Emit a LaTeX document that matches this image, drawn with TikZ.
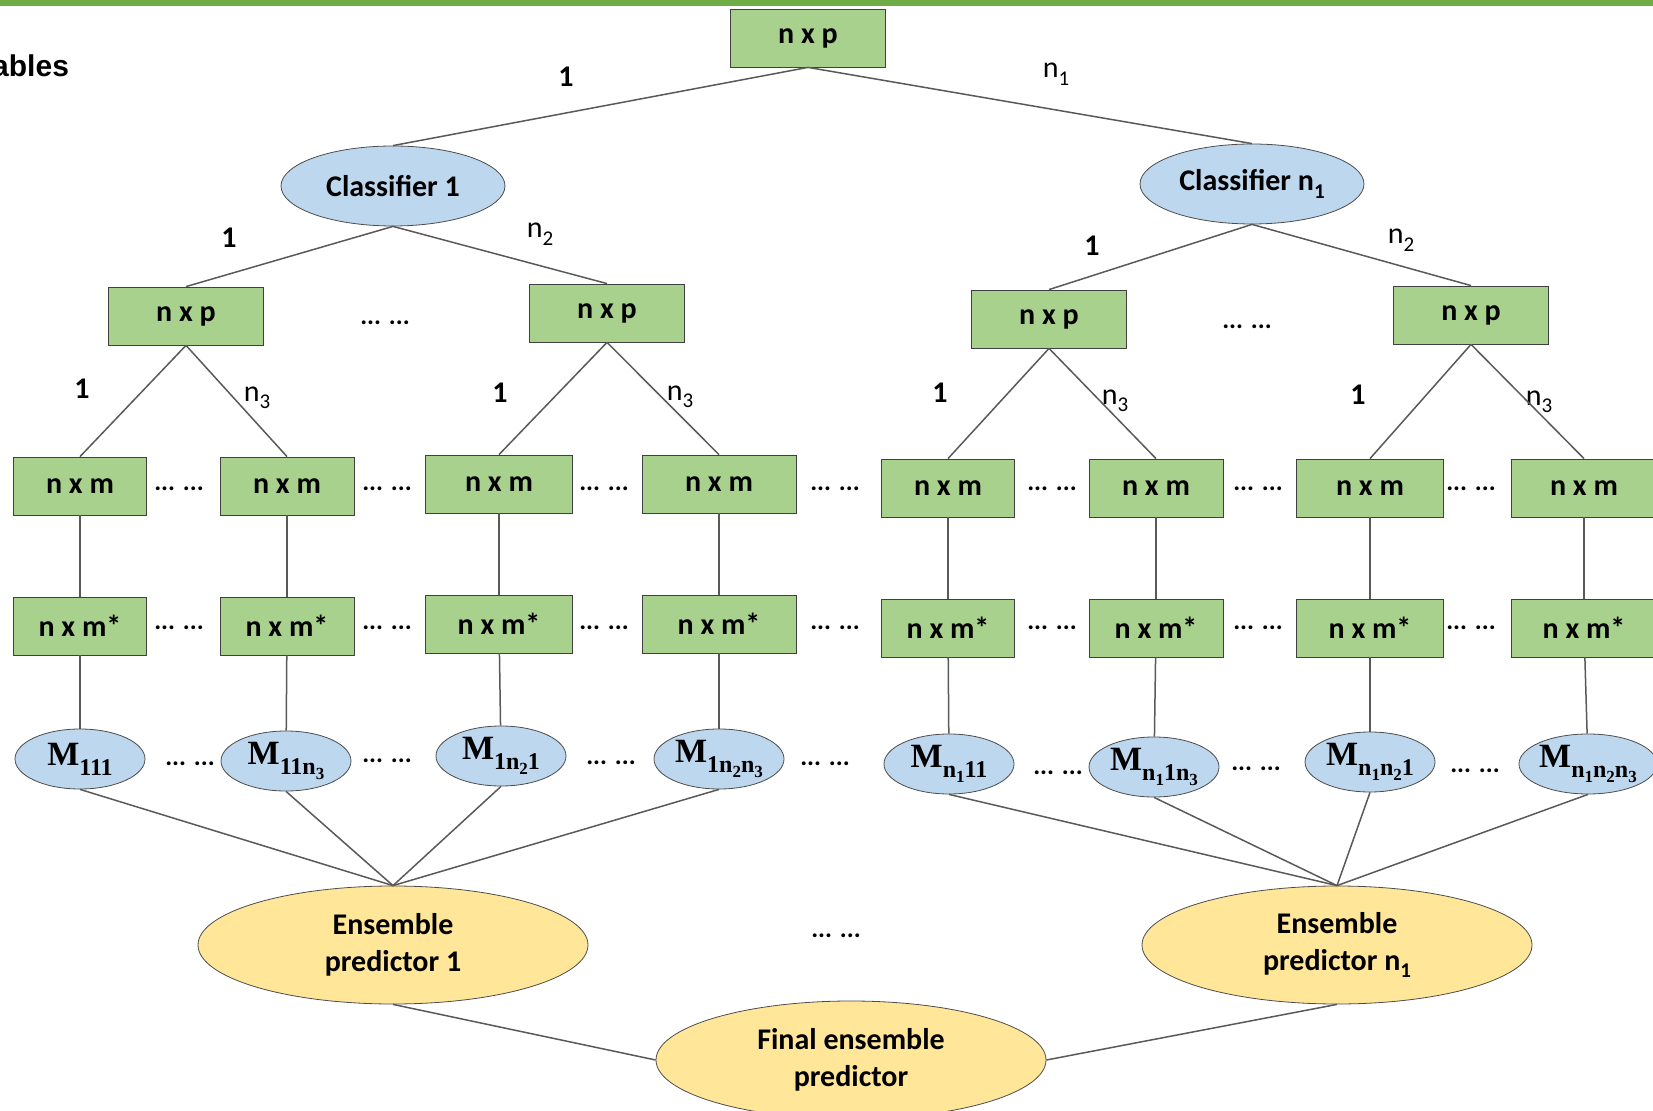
\documentclass[tikz,border=0pt]{standalone}
\usepackage{fontspec}
\setmainfont{Carlito}
\newfontfamily\mfont{Liberation Serif}
\newfontfamily\hfont{Liberation Sans}
\usetikzlibrary{shapes.geometric}

\definecolor{boxgreen}{HTML}{A9D18E}
\definecolor{ellblue}{HTML}{BDD7EE}
\definecolor{ellyellow}{HTML}{FFE699}
\definecolor{bargreen}{HTML}{70AD47}
\definecolor{linegray}{HTML}{595959}

\newcommand{\nsub}[1]{\raisebox{-0.25em}{\fontsize{10.5}{10.5}\selectfont #1}}
\newcommand{\msub}[1]{\raisebox{-0.2em}{\fontsize{8.5}{8.5}\selectfont #1}}
\newcommand{\mname}[1]{{\mfont\bfseries\fontsize{17}{17}\selectfont M\raisebox{-0.3em}{\fontsize{12}{12}\selectfont #1}}}

\begin{document}
\begin{tikzpicture}[x=0.5pt,y=-0.5pt]

\tikzset{boxnode/.style={rectangle,draw=black!75,fill=boxgreen,minimum width=77.5pt,minimum height=29pt,inner sep=0pt,font=\fontsize{15}{15}\selectfont\bfseries},}
\tikzset{clsnode/.style={ellipse,draw=black!70,fill=ellblue,minimum width=112pt,minimum height=40pt,inner sep=0pt,font=\fontsize{15}{15}\selectfont\bfseries},}
\tikzset{mnode/.style={ellipse,draw=black!70,fill=ellblue,minimum width=65pt,minimum height=30pt,inner sep=0pt},}
\tikzset{ensnode/.style={ellipse,draw=black!70,fill=ellyellow,minimum width=195pt,minimum height=59pt,inner sep=0pt,align=center,font=\fontsize{15}{18.5}\selectfont\bfseries},}
\tikzset{edge/.style={linegray,line width=0.75pt},}
\tikzset{onelab/.style={font=\fontsize{15}{15}\selectfont\bfseries},}
\tikzset{nlab/.style={font=\fontsize{15}{15}\selectfont},}
\tikzset{dotlab/.style={font=\fontsize{13}{13}\selectfont\bfseries},}

  \useasboundingbox (0,0) rectangle (1653,1111);
  \fill[bargreen] (0,0) rectangle (1653,6);
  \draw (76,66) node[anchor=east,font=\hfont\fontsize{15}{15}\selectfont\bfseries](vartitle) {ables};

  \draw (808,38) node[boxnode](top) {n x p};
  \draw (393,186) node[clsnode](cls1) {Classifier 1};
  \draw (1252,184) node[clsnode](clsn) {Classifier n\nsub{1}};

  \draw (186,316) node[boxnode](p1) {n x p};
  \draw (607,313) node[boxnode](p2) {n x p};
  \draw (1049,319) node[boxnode](p3) {n x p};
  \draw (1471,315) node[boxnode](p4) {n x p};

  \draw (80,486) node[boxnode,minimum width=66.5pt](m1) {n x m};
  \draw (287,486) node[boxnode,minimum width=67pt](m2) {n x m};
  \draw (499,484) node[boxnode,minimum width=73.5pt](m3) {n x m};
  \draw (719,484) node[boxnode,minimum width=77pt](m4) {n x m};
  \draw (948,488) node[boxnode,minimum width=66.5pt](m5) {n x m};
  \draw (1156,488) node[boxnode,minimum width=67pt](m6) {n x m};
  \draw (1370,488) node[boxnode,minimum width=73.5pt](m7) {n x m};
  \draw (1584,488) node[boxnode,minimum width=73pt](m8) {n x m};

  \draw (80,626) node[boxnode,minimum width=66.5pt](s1) {n x m*};
  \draw (287,626) node[boxnode,minimum width=67pt](s2) {n x m*};
  \draw (499,624) node[boxnode,minimum width=73.5pt](s3) {n x m*};
  \draw (719,624) node[boxnode,minimum width=77pt](s4) {n x m*};
  \draw (948,628) node[boxnode,minimum width=66.5pt](s5) {n x m*};
  \draw (1156,628) node[boxnode,minimum width=67pt](s6) {n x m*};
  \draw (1370,628) node[boxnode,minimum width=73.5pt](s7) {n x m*};
  \draw (1584,628) node[boxnode,minimum width=73pt](s8) {n x m*};

  \draw (80,759) node[mnode](e1) {\mname{111}};
  \draw (286,761) node[mnode](e2) {\mname{11n\msub{3}}};
  \draw (501,756) node[mnode](e3) {\mname{1n\msub{2}1}};
  \draw (719,759) node[mnode](e4) {\mname{1n\msub{2}n\msub{3}}};
  \draw (949,764) node[mnode](e5) {\mname{n\msub{1}11}};
  \draw (1154,767) node[mnode](e6) {\mname{n\msub{1}1n\msub{3}}};
  \draw (1370,762) node[mnode](e7) {\mname{n\msub{1}n\msub{2}1}};
  \draw (1588,764) node[mnode](e8) {\mname{n\msub{1}n\msub{2}n\msub{3}}};

  \draw (393,945) node[ensnode](ens1) {Ensemble\\predictor 1};
  \draw (1337,945) node[ensnode](ensn) {Ensemble\\predictor n\nsub{1}};
  \draw (851,1060) node[ensnode](fin) {Final ensemble\\predictor};

  %dots
  \draw (385,323) node[dotlab](d0a) {... ...};
  \draw (1247,327) node[dotlab](d0b) {... ...};
  \draw (179,489) node[dotlab](d1a) {... ...};
  \draw (387,489) node[dotlab](d1b) {... ...};
  \draw (604,489) node[dotlab](d1c) {... ...};
  \draw (835,489) node[dotlab](d1d) {... ...};
  \draw (1052,489) node[dotlab](d1e) {... ...};
  \draw (1258,489) node[dotlab](d1f) {... ...};
  \draw (1471,489) node[dotlab](d1g) {... ...};
  \draw (179,628) node[dotlab](d2a) {... ...};
  \draw (387,628) node[dotlab](d2b) {... ...};
  \draw (604,628) node[dotlab](d2c) {... ...};
  \draw (835,628) node[dotlab](d2d) {... ...};
  \draw (1052,628) node[dotlab](d2e) {... ...};
  \draw (1258,628) node[dotlab](d2f) {... ...};
  \draw (1471,628) node[dotlab](d2g) {... ...};
  \draw (190,764) node[dotlab](d3a) {... ...};
  \draw (387,761) node[dotlab](d3b) {... ...};
  \draw (611,763) node[dotlab](d3c) {... ...};
  \draw (825,764) node[dotlab](d3d) {... ...};
  \draw (1058,773) node[dotlab](d3e) {... ...};
  \draw (1256,769) node[dotlab](d3f) {... ...};
  \draw (1475,771) node[dotlab](d3g) {... ...};
  \draw (836,936) node[dotlab](d4) {... ...};

  %edge labels
  \draw (566,77) node[onelab](l1) {1};
  \draw (1056,74) node[nlab](l2) {n\nsub{1}};
  \draw (229,238) node[onelab](l3) {1};
  \draw (540,234) node[nlab](l4) {n\nsub{2}};
  \draw (1092,246) node[onelab](l5) {1};
  \draw (1401,240) node[nlab](l6) {n\nsub{2}};
  \draw (82,389) node[onelab](l7) {1};
  \draw (257,398) node[nlab](l8) {n\nsub{3}};
  \draw (500,393) node[onelab](l9) {1};
  \draw (680,397) node[nlab](l10) {n\nsub{3}};
  \draw (940,393) node[onelab](l11) {1};
  \draw (1115,401) node[nlab](l12) {n\nsub{3}};
  \draw (1358,395) node[onelab](l13) {1};
  \draw (1539,402) node[nlab](l14) {n\nsub{3}};

  %edges for the tree
    \draw[edge] (top.south) -- (cls1.north);
    \draw[edge] (top.south) -- (clsn.north);
    \draw[edge] (cls1.south) -- (p1.north);
    \draw[edge] (cls1.south) -- (p2.north);
    \draw[edge] (clsn.south) -- (p3.north);
    \draw[edge] (clsn.south) -- (p4.north);

    \draw[edge] (p1.south) -- (m1.north);
    \draw[edge] (p1.south) -- (m2.north);
    \draw[edge] (p2.south) -- (m3.north);
    \draw[edge] (p2.south) -- (m4.north);
    \draw[edge] (p3.south) -- (m5.north);
    \draw[edge] (p3.south) -- (m6.north);
    \draw[edge] (p4.south) -- (m7.north);
    \draw[edge] (p4.south) -- (m8.north);

  %edges down the columns
    \draw[edge] (m1) -- (s1);  \draw[edge] (s1) -- (e1);
    \draw[edge] (m2) -- (s2);  \draw[edge] (s2) -- (e2);
    \draw[edge] (m3) -- (s3);  \draw[edge] (s3) -- (e3);
    \draw[edge] (m4) -- (s4);  \draw[edge] (s4) -- (e4);
    \draw[edge] (m5) -- (s5);  \draw[edge] (s5) -- (e5);
    \draw[edge] (m6) -- (s6);  \draw[edge] (s6) -- (e6);
    \draw[edge] (m7) -- (s7);  \draw[edge] (s7) -- (e7);
    \draw[edge] (m8) -- (s8);  \draw[edge] (s8) -- (e8);

  %edges for the ensembles
    \draw[edge] (e1.south) -- (ens1.north);
    \draw[edge] (e2.south) -- (ens1.north);
    \draw[edge] (e3.south) -- (ens1.north);
    \draw[edge] (e4.south) -- (ens1.north);
    \draw[edge] (e5.south) -- (ensn.north);
    \draw[edge] (e6.south) -- (ensn.north);
    \draw[edge] (e7.south) -- (ensn.north);
    \draw[edge] (e8.south) -- (ensn.north);
    \draw[edge] (ens1.south) -- (fin.west);
    \draw[edge] (ensn.south) -- (fin.east);

\end{tikzpicture}
\end{document}
